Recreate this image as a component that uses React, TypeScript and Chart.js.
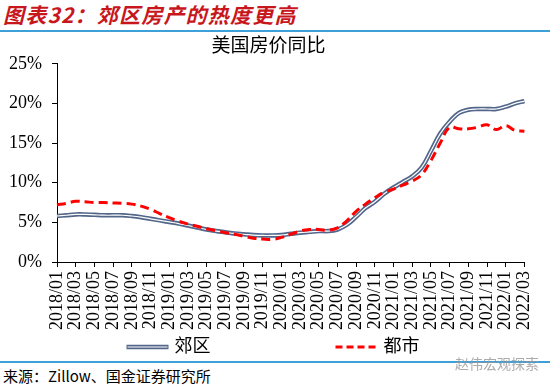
import React, { useEffect, useRef } from "react";
import { Chart, registerables } from "chart.js";

Chart.register(...registerables);

const months = [
  "2018/01", "2018/02", "2018/03", "2018/04", "2018/05", "2018/06", "2018/07", "2018/08", "2018/09", "2018/10", "2018/11", "2018/12",
  "2019/01", "2019/02", "2019/03", "2019/04", "2019/05", "2019/06", "2019/07", "2019/08", "2019/09", "2019/10", "2019/11", "2019/12",
  "2020/01", "2020/02", "2020/03", "2020/04", "2020/05", "2020/06", "2020/07", "2020/08", "2020/09", "2020/10", "2020/11", "2020/12",
  "2021/01", "2021/02", "2021/03", "2021/04", "2021/05", "2021/06", "2021/07", "2021/08", "2021/09", "2021/10", "2021/11", "2021/12",
  "2022/01", "2022/02", "2022/03",
];

// 郊区 (suburb) YoY %
const suburb = [
  5.8, 5.9, 6.0, 6.0, 5.95, 5.9, 5.9, 5.9, 5.8, 5.65, 5.45, 5.25,
  5.05, 4.85, 4.6, 4.35, 4.1, 3.9, 3.75, 3.6, 3.5, 3.4, 3.35, 3.35,
  3.4, 3.55, 3.7, 3.8, 3.9, 3.9, 4.1, 4.7, 5.7, 6.8, 7.6, 8.6,
  9.4, 10.1, 10.8, 11.9, 14.0, 16.2, 17.7, 18.8, 19.2, 19.3, 19.3, 19.3,
  19.6, 20.0, 20.3,
];

// 都市 (urban) YoY %
const urban = [
  7.2, 7.4, 7.65, 7.6, 7.5, 7.5, 7.45, 7.4, 7.3, 7.05, 6.65, 6.1,
  5.6, 5.15, 4.8, 4.5, 4.2, 3.95, 3.7, 3.5, 3.25, 3.0, 2.9, 2.85,
  3.1, 3.5, 3.9, 4.1, 4.1, 4.0, 4.3, 5.2, 6.4, 7.3, 8.1, 8.8,
  9.2, 9.7, 10.2, 11.0, 12.8, 15.0, 17.0, 16.8, 16.8, 17.0, 17.3, 16.7,
  17.2, 16.6, 16.5,
];

const seriesNames = ["郊区", "都市"];
const chartTitle = "美国房价同比";
const headerText = "图表32：郊区房产的热度更高";
const sourceText = "来源：Zillow、国金证券研究所";
const watermarkText = "赵伟宏观探索";

const SERIF = '"Liberation Serif", "Times New Roman", serif';
const CJK = '"Liberation Serif", "Noto Sans CJK SC", serif';
const BLUE = "#52668a";
const RED = "#ff0000";

const legendPlugin = {
  id: "customLegend",
  afterDraw(chart: any) {
    const ctx = chart.ctx as CanvasRenderingContext2D;
    const y = chart.height - 11;
    ctx.save();
    ctx.font = `18px ${CJK}`;
    ctx.textBaseline = "middle";
    ctx.textAlign = "left";
    const lineW = 42;
    const textGap = 6;
    const itemGap = 125;
    const w0 = lineW + textGap + ctx.measureText(seriesNames[0]).width;
    const w1 = lineW + textGap + ctx.measureText(seriesNames[1]).width;
    const total = w0 + itemGap + w1;
    let x = chart.width / 2 - 2 - total / 2;
    ctx.lineCap = "butt";
    ctx.strokeStyle = BLUE;
    ctx.lineWidth = 4.5;
    ctx.beginPath();
    ctx.moveTo(x, y);
    ctx.lineTo(x + lineW, y);
    ctx.stroke();
    ctx.strokeStyle = "#ffffff";
    ctx.lineWidth = 1.2;
    ctx.beginPath();
    ctx.moveTo(x + 1, y);
    ctx.lineTo(x + lineW - 1, y);
    ctx.stroke();
    ctx.fillStyle = "#000";
    ctx.fillText(seriesNames[0], x + lineW + textGap, y);
    x += w0 + itemGap;
    ctx.strokeStyle = RED;
    ctx.lineWidth = 3;
    ctx.setLineDash([7, 4]);
    ctx.beginPath();
    ctx.moveTo(x, y);
    ctx.lineTo(x + lineW, y);
    ctx.stroke();
    ctx.setLineDash([]);
    ctx.fillText(seriesNames[1], x + lineW + textGap, y);
    ctx.restore();
  },
};

function ChartView() {
  const ref = useRef<HTMLCanvasElement | null>(null);
  useEffect(() => {
    if (!ref.current) return;
    const chart = new Chart(ref.current, {
      type: "line",
      data: {
        labels: months,
        datasets: [
          {
            label: seriesNames[1],
            data: urban,
            borderColor: RED,
            borderWidth: 3,
            borderDash: [9, 5],
            pointRadius: 0,
            tension: 0.4,
            fill: false,
            order: 0,
          },
          {
            label: seriesNames[0] + "-inner",
            data: suburb,
            borderColor: "#ffffff",
            borderWidth: 1.2,
            pointRadius: 0,
            tension: 0.4,
            fill: false,
            order: 1,
          },
          {
            label: seriesNames[0],
            data: suburb,
            borderColor: BLUE,
            borderWidth: 4.5,
            pointRadius: 0,
            tension: 0.4,
            fill: false,
            order: 2,
          },
        ],
      },
      options: {
        animation: false,
        responsive: false,
        devicePixelRatio: 1,
        layout: { padding: { left: 0, right: 13, top: 0, bottom: 24 } },
        plugins: {
          legend: { display: false },
          tooltip: { enabled: false },
          title: {
            display: true,
            text: chartTitle,
            color: "#000",
            font: { family: CJK, size: 19, weight: "normal" },
            padding: { top: 3, bottom: 5 },
          },
        },
        scales: {
          x: {
            type: "category",
            offset: false,
            grid: {
              drawOnChartArea: false,
              drawTicks: true,
              tickLength: 5,
              color: (c: any) => (c.index % 2 === 0 ? "#000" : "rgba(0,0,0,0)"),
            },
            border: { color: "#000", width: 1 },
            ticks: {
              autoSkip: false,
              maxRotation: 90,
              minRotation: 90,
              padding: 4,
              color: "#000",
              font: { family: SERIF, size: 18 },
              callback: function (this: any, v: any, i: number) {
                return i % 2 === 0 ? months[i] : "";
              },
            },
            afterFit: (s: any) => {
              s.height = 72;
            },
          },
          y: {
            min: 0,
            max: 25,
            grid: { drawOnChartArea: false, drawTicks: true, tickLength: 5, color: "#000" },
            border: { color: "#000", width: 1 },
            ticks: {
              stepSize: 5,
              padding: 10,
              color: "#000",
              font: { family: SERIF, size: 18 },
              callback: (v: any) => v + "%",
            },
            afterFit: (s: any) => {
              s.width = 57;
            },
          },
        },
      },
      plugins: [legendPlugin],
    });
    return () => chart.destroy();
  }, []);
  return <canvas ref={ref} width={550} height={325} style={{ position: "absolute", left: 0, top: 33 }} />;
}

export default function App() {
  return (
    <div
      style={{
        position: "fixed",
        left: 0,
        top: 0,
        width: 550,
        height: 389,
        background: "#fff",
        overflow: "hidden",
      }}
    >
      <div
        style={{
          position: "absolute",
          left: 3,
          top: 2,
          fontSize: 21,
          lineHeight: "25px",
          fontWeight: "bold",
          fontStyle: "italic",
          color: "#c8161d",
          fontFamily: '"Noto Sans CJK SC", sans-serif',
          letterSpacing: 1.2,
          whiteSpace: "nowrap",
        }}
      >
        {headerText}
      </div>
      <div style={{ position: "absolute", left: 0, top: 30, width: 550, height: 2, background: "#3da0d8" }} />
      <ChartView />
      <div style={{ position: "absolute", left: 0, top: 361, width: 550, height: 2, background: "#3da0d8" }} />
      <div
        style={{
          position: "absolute",
          left: 3,
          top: 366,
          fontSize: 15,
          lineHeight: "20px",
          color: "#000",
          fontFamily: '"Noto Sans CJK SC", sans-serif',
          whiteSpace: "nowrap",
        }}
      >
        {sourceText}
      </div>
      <div
        style={{
          position: "absolute",
          left: 455,
          top: 354,
          fontSize: 14,
          lineHeight: "18px",
          color: "rgba(150,150,150,0.8)",
          fontFamily: '"Noto Sans CJK SC", sans-serif',
          whiteSpace: "nowrap",
        }}
      >
        {watermarkText}
      </div>
    </div>
  );
}
